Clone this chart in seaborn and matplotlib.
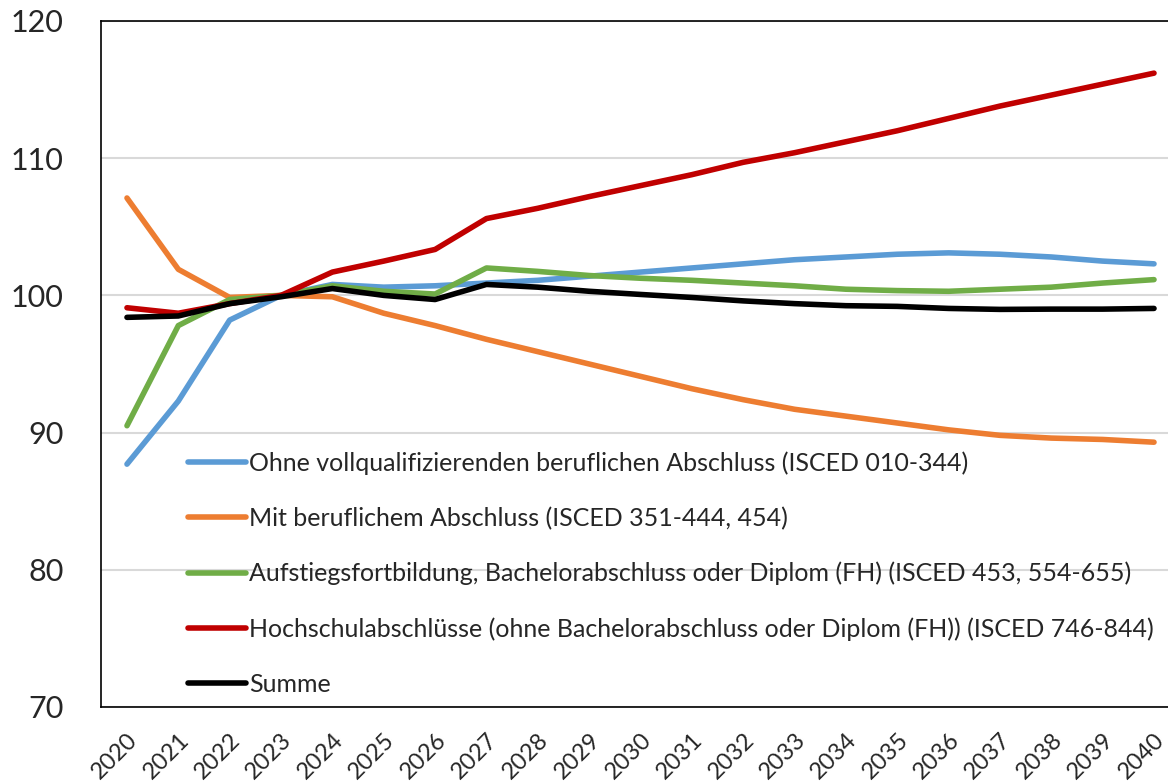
import matplotlib
matplotlib.use("Agg")
import matplotlib.pyplot as plt
import seaborn as sns
import pandas as pd

# Index values (2023 = 100)
YEARS = list(range(2020, 2041))

OHNE = [87.7, 92.3, 98.2, 100.0, 100.8, 100.6, 100.7, 100.9, 101.1, 101.4, 101.7,
        102.0, 102.3, 102.6, 102.8, 103.0, 103.1, 103.0, 102.8, 102.5, 102.3]
BERUFLICH = [107.1, 101.9, 99.85, 100.0, 99.9, 98.7, 97.8, 96.8, 95.9, 95.0, 94.1,
             93.2, 92.4, 91.7, 91.2, 90.7, 90.2, 89.8, 89.6, 89.5, 89.3]
AUFSTIEG = [90.5, 97.8, 99.7, 100.0, 100.7, 100.3, 100.1, 102.0, 101.75, 101.45, 101.25,
            101.1, 100.9, 100.7, 100.45, 100.35, 100.3, 100.45, 100.6, 100.9, 101.15]
HOCHSCHULE = [99.1, 98.7, 99.4, 100.0, 101.7, 102.5, 103.35, 105.6, 106.35, 107.2, 108.0,
              108.8, 109.7, 110.4, 111.2, 112.0, 112.9, 113.8, 114.6, 115.4, 116.2]
SUMME = [98.4, 98.5, 99.4, 99.9, 100.5, 100.0, 99.7, 100.8, 100.6, 100.3, 100.07,
         99.85, 99.6, 99.4, 99.25, 99.2, 99.05, 98.98, 99.0, 99.0, 99.05]

LABELS = [
    "Ohne vollqualifizierenden beruflichen Abschluss (ISCED 010-344)",
    "Mit beruflichem Abschluss (ISCED 351-444, 454)",
    "Aufstiegsfortbildung, Bachelorabschluss oder Diplom (FH) (ISCED 453, 554-655)",
    "Hochschulabschlüsse (ohne Bachelorabschluss oder Diplom (FH)) (ISCED 746-844)",
    "Summe",
]
COLORS = ["#5B9BD5", "#ED7D31", "#70AD47", "#C00000", "#000000"]

rows = []
for label, vals in zip(LABELS, [OHNE, BERUFLICH, AUFSTIEG, HOCHSCHULE, SUMME]):
    for i, (yr, v) in enumerate(zip(YEARS, vals)):
        rows.append({"pos": i, "year": yr, "value": v, "series": label})
df = pd.DataFrame(rows)

sns.set_style("white")
plt.rcParams["font.family"] = ["Lato", "DejaVu Sans"]

fig = plt.figure(figsize=(11.68, 7.81), dpi=100)
# axes run a little past the right image edge, as in the reference
ax = fig.add_axes([101.3 / 1168, 1 - 707 / 781, (1179.7 - 101.3) / 1168, (707 - 21) / 781])

sns.lineplot(data=df, x="pos", y="value", hue="series", hue_order=LABELS,
             palette=COLORS, linewidth=4, ax=ax, solid_capstyle="round")

ax.set_xlim(-0.5, 20.5)
ax.set_ylim(70, 120)
ax.set_yticks([70, 80, 90, 100, 110, 120])
ax.set_xticks(range(len(YEARS)))
ax.set_xticklabels([str(y) for y in YEARS], rotation=45, ha="right",
                   rotation_mode="anchor", fontsize=17)
ax.tick_params(axis="y", labelsize=22, length=0, pad=27)
ax.tick_params(axis="x", length=0, pad=16)
ax.yaxis.grid(True, color="#d9d9d9", linewidth=1.5)
ax.set_axisbelow(True)
for s in ax.spines.values():
    s.set_color("black")
    s.set_linewidth(1.2)
ax.set_xlabel("")
ax.set_ylabel("")

ax.legend(loc="upper left", bbox_to_anchor=(188 / 1168, 1 - 451 / 781),
          bbox_transform=fig.transFigure, frameon=False, fontsize=18,
          handlelength=2.3, handletextpad=0.15, labelspacing=1.28,
          borderpad=0, borderaxespad=0)

fig.savefig("out.png", dpi=100)
